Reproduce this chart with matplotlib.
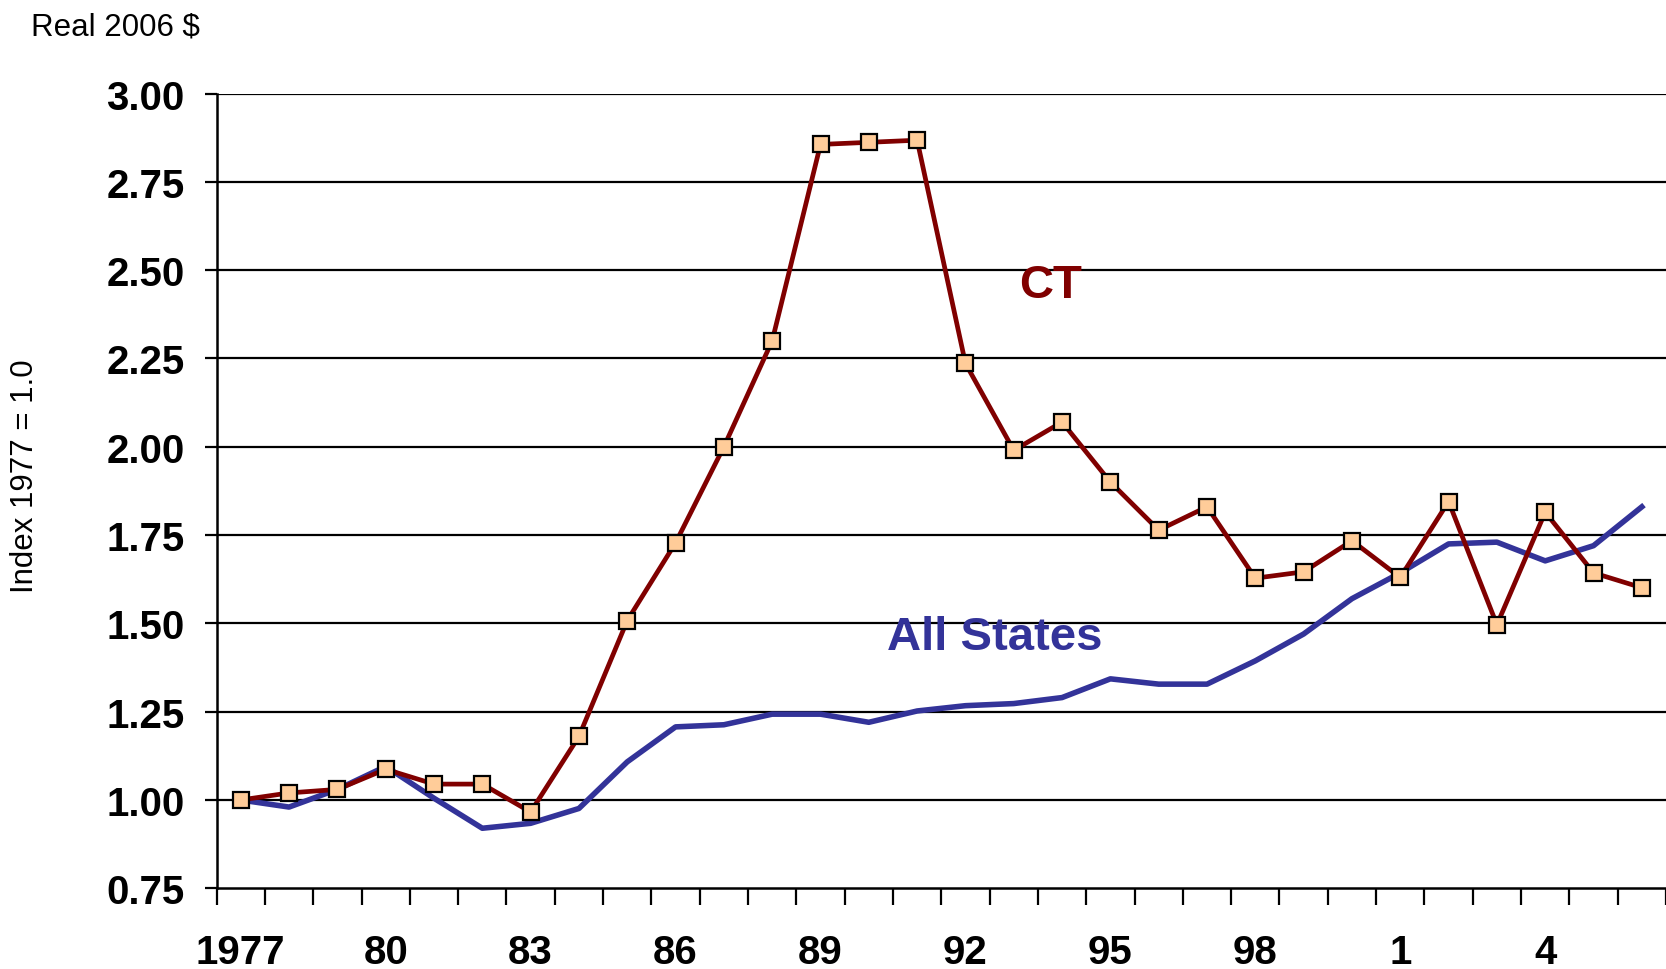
import matplotlib
matplotlib.use("Agg")
import matplotlib.pyplot as plt
import numpy as np

# data (index 1977 = 1.0)
years = list(range(1977, 2007))
ct = [1.00, 1.02, 1.03, 1.087, 1.045, 1.045, 0.966, 1.18, 1.508, 1.728,
      2.00, 2.30, 2.856, 2.862, 2.868, 2.236, 1.99, 2.07, 1.90, 1.764,
      1.83, 1.628, 1.646, 1.734, 1.63, 1.845, 1.496, 1.815, 1.643, 1.601]
all_states = [1.00, 0.98, 1.03, 1.095, 1.005, 0.92, 0.934, 0.976, 1.108, 1.207,
              1.213, 1.243, 1.243, 1.22, 1.252, 1.267, 1.273, 1.29, 1.343, 1.328,
              1.328, 1.394, 1.47, 1.57, 1.643, 1.725, 1.73, 1.677, 1.72, 1.83]
tick_years = [1977, 1980, 1983, 1986, 1989, 1992, 1995, 1998, 2001, 2004]
tick_labels = ["1977", "80", "83", "86", "89", "92", "95", "98", "1", "4"]
y_ticks = [0.75, 1.00, 1.25, 1.50, 1.75, 2.00, 2.25, 2.50, 2.75, 3.00]

narrow = ["Liberation Sans Narrow", "Liberation Sans", "DejaVu Sans"]
plain = ["Liberation Sans", "DejaVu Sans"]

fig = plt.figure(figsize=(16.66, 9.70), dpi=100)
ax = fig.add_axes([0.130, 0.0832, 0.870, 0.8193])

# gridlines
for v in y_ticks[1:]:
    ax.axhline(v, color="black", lw=1.6, zorder=1)

ax.plot(years, all_states, color="#333399", lw=4.0, zorder=3)
ax.plot(years, ct, color="#800000", lw=3.4, marker="s", markersize=11,
        markerfacecolor="#FFCC99", markeredgecolor="black", markeredgewidth=1.6,
        zorder=4)

ax.set_xlim(1976.5, 2006.5)
ax.set_ylim(0.75, 3.0)

ax.set_yticks(y_ticks)
ax.set_yticklabels([f"{v:.2f}" for v in y_ticks], family=narrow,
                   fontweight="bold", fontsize=29)
ax.tick_params(axis="y", length=9, width=1.6, pad=14)

ax.set_xticks(tick_years)
ax.set_xticklabels(tick_labels, family=narrow, fontweight="bold", fontsize=29)
ax.set_xticks(np.arange(1976.5, 2007, 1.0), minor=True)
ax.tick_params(axis="x", which="major", length=0, pad=32)
ax.tick_params(axis="x", which="minor", length=12, width=1.6, direction="out")

for s in ["top", "right"]:
    ax.spines[s].set_visible(False)
ax.spines["left"].set_linewidth(1.8)
ax.spines["bottom"].set_linewidth(1.8)

ax.text(1993.77, 2.458, "CT", color="#800000", family=narrow,
        fontweight="bold", fontsize=34, ha="center", va="center")
ax.text(1992.6, 1.461, "All States", color="#333399", family=narrow,
        fontweight="bold", fontsize=34, ha="center", va="center")

fig.text(31 / 1666, 1 - 13 / 970, "Real 2006 $", family=plain, fontsize=22.5,
         ha="left", va="top")
fig.text(25 / 1666, 1 - 476 / 970, "Index 1977 = 1.0", family=plain,
         fontsize=22.5, rotation=90, ha="center", va="center")

fig.savefig("out.png", dpi=100)
